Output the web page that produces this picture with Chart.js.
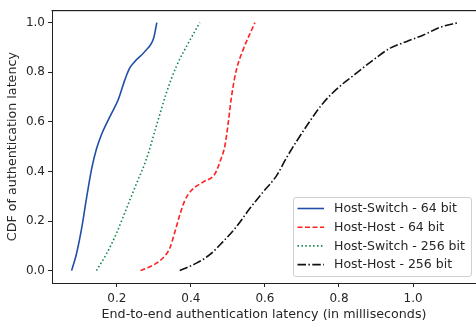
<!DOCTYPE html>
<html>
<head>
<meta charset="utf-8">
<script src="https://cdn.jsdelivr.net/npm/chart.js@4/dist/chart.umd.min.js"></script>
<style>
  html, body { margin: 0; padding: 0; background: #fff; }
  #wrap { width: 476px; height: 329px; position: relative; }
</style>
</head>
<body>
<div id="wrap"><canvas id="chart"></canvas></div>
<script>
// latency in ms (x) vs CDF (y)
const hostSwitch64X = [0.078, 0.091, 0.105, 0.118, 0.132, 0.145, 0.159, 0.181, 0.204, 0.222, 0.235, 0.250, 0.276, 0.300, 0.308];
const hostSwitch64Y = [0, 0.067, 0.17, 0.29, 0.41, 0.49, 0.55, 0.62, 0.69, 0.77, 0.817, 0.845, 0.884, 0.94, 1.0];

const hostHost64X = [0.264, 0.307, 0.334, 0.343, 0.357, 0.370, 0.384, 0.402, 0.433, 0.465, 0.480, 0.492, 0.501, 0.510, 0.523, 0.541, 0.573];
const hostHost64Y = [0, 0.03, 0.067, 0.09, 0.157, 0.224, 0.284, 0.324, 0.357, 0.39, 0.445, 0.504, 0.597, 0.704, 0.81, 0.89, 1.0];

const hostSwitch256X = [0.145, 0.172, 0.199, 0.226, 0.253, 0.280, 0.307, 0.334, 0.361, 0.393, 0.424];
const hostSwitch256Y = [0, 0.067, 0.15, 0.25, 0.35, 0.45, 0.584, 0.717, 0.824, 0.917, 1.0];

const hostHost256X = [0.370, 0.415, 0.451, 0.487, 0.523, 0.559, 0.595, 0.632, 0.659, 0.713, 0.758, 0.803, 0.848, 0.893, 0.938, 0.983, 1.028, 1.073, 1.123];
const hostHost256Y = [0, 0.03, 0.064, 0.117, 0.177, 0.25, 0.317, 0.384, 0.457, 0.584, 0.677, 0.744, 0.797, 0.85, 0.897, 0.924, 0.95, 0.981, 1.0];

const seriesNames = ["Host-Switch - 64 bit", "Host-Host - 64 bit", "Host-Switch - 256 bit", "Host-Host - 256 bit"];
const xTicks = [0.2, 0.4, 0.6, 0.8, 1.0];
const yTicks = [0.0, 0.2, 0.4, 0.6, 0.8, 1.0];

const FONT = "'DejaVu Sans', sans-serif";
const TXT = "#262626";

function pts(xs, ys) {
  return xs.map((x, i) => ({ x: x, y: ys[i] }));
}

function line(label, xs, ys, color, dash) {
  return {
    label: label,
    data: pts(xs, ys),
    borderColor: color,
    backgroundColor: color,
    borderWidth: 1.6,
    borderDash: dash,
    pointRadius: 0,
    cubicInterpolationMode: "monotone",
    fill: false,
  };
}

// top spine + legend box inside plot
const extras = {
  id: "extras",
  afterDraw(chart) {
    const ctx = chart.ctx;
    const a = chart.chartArea;
    ctx.save();
    ctx.fillStyle = "#222";
    ctx.fillRect(a.left - 0.5, Math.floor(a.top), a.right - a.left + 1, 1.2);

    const bx = 293.5, by = 197.5, bw = 178, bh = 79;
    ctx.fillStyle = "rgba(255,255,255,0.8)";
    ctx.strokeStyle = "#d0d0d0";
    ctx.lineWidth = 1;
    ctx.beginPath();
    ctx.roundRect(bx, by, bw, bh, 2.5);
    ctx.fill();
    ctx.stroke();

    ctx.font = "12.5px " + FONT;
    ctx.textBaseline = "middle";
    chart.data.datasets.forEach((ds, i) => {
      const y = 208.5 + i * 18.7;
      ctx.strokeStyle = ds.borderColor;
      ctx.lineWidth = ds.borderWidth;
      ctx.setLineDash(ds.borderDash || []);
      ctx.beginPath();
      ctx.moveTo(297.5, y);
      ctx.lineTo(324, y);
      ctx.stroke();
      ctx.setLineDash([]);
      ctx.fillStyle = TXT;
      ctx.fillText(ds.label, 334, y + 0.5);
    });
    ctx.restore();
  },
};

new Chart(document.getElementById("chart"), {
  type: "line",
  data: {
    datasets: [
      line(seriesNames[0], hostSwitch64X, hostSwitch64Y, "#1f4fa8", []),
      line(seriesNames[1], hostHost64X, hostHost64Y, "#ff2020", [5, 2.5]),
      line(seriesNames[2], hostSwitch256X, hostSwitch256Y, "#12864a", [1.5, 2.4]),
      line(seriesNames[3], hostHost256X, hostHost256Y, "#111111", [8.5, 2.4, 1.5, 2.4]),
    ],
  },
  options: {
    responsive: true,
    maintainAspectRatio: false,
    animation: false,
    layout: { padding: { top: 7, right: 0, left: 5, bottom: 7 } },
    plugins: {
      legend: { display: false },
      tooltip: { enabled: false },
    },
    scales: {
      x: {
        type: "linear",
        min: 0.025,
        max: 1.17,
        afterBuildTicks: (s) => { s.ticks = xTicks.map((v) => ({ value: v })); },
        afterFit: (s) => { s.height = 39; },
        ticks: {
          color: TXT,
          font: { family: FONT, size: 12 },
          padding: 5,
          maxRotation: 0,
          callback: (v) => v.toFixed(1),
        },
        grid: { drawOnChartArea: false, tickLength: 4, color: "#222", tickWidth: 1 },
        border: { color: "#222", width: 1 },
        title: {
          display: true,
          text: "End-to-end authentication latency (in milliseconds)",
          color: TXT,
          font: { family: FONT, size: 12.7 },
          padding: { top: 1, bottom: 0 },
        },
      },
      y: {
        type: "linear",
        min: -0.05,
        max: 1.05,
        afterBuildTicks: (s) => { s.ticks = yTicks.map((v) => ({ value: v })); },
        afterFit: (s) => { s.width = 47; },
        ticks: {
          color: TXT,
          font: { family: FONT, size: 12 },
          padding: 3,
          callback: (v) => v.toFixed(1),
        },
        grid: { drawOnChartArea: false, tickLength: 4, color: "#222", tickWidth: 1 },
        border: { color: "#222", width: 1 },
        title: {
          display: true,
          text: "CDF of authentication latency",
          color: TXT,
          font: { family: FONT, size: 12.7 },
          padding: { top: 0, bottom: 2 },
        },
      },
    },
  },
  plugins: [extras],
});
</script>
</body>
</html>
